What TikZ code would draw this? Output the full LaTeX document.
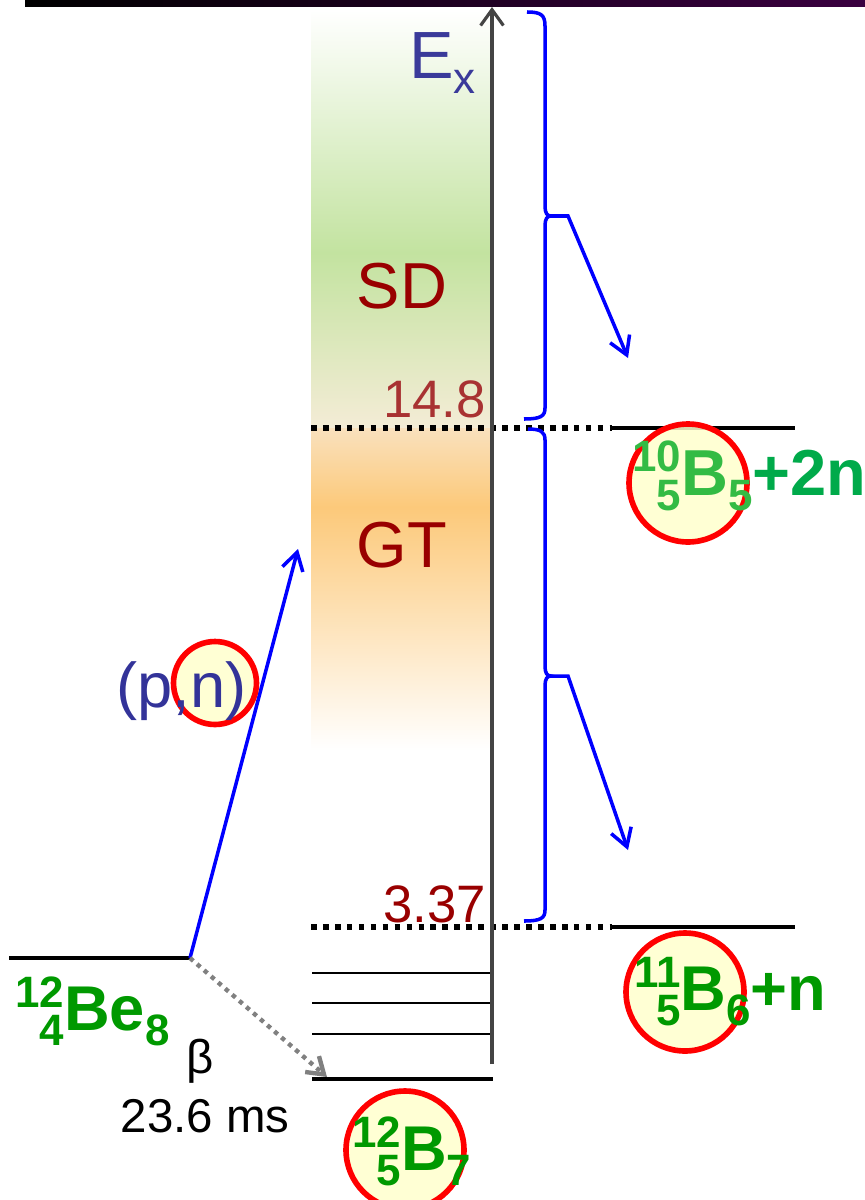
\documentclass[tikz,border=0pt]{standalone}
\usepackage{fontspec}
\setmainfont{Liberation Sans}
\usetikzlibrary{positioning,arrows.meta,calc}

\definecolor{exblue}{HTML}{3A3A9A}
\definecolor{pnblue}{HTML}{333399}
\definecolor{sdred}{HTML}{990000}
\definecolor{numred}{HTML}{A83232}
\definecolor{nucgreen}{HTML}{009900}
\definecolor{nuclight}{HTML}{33BB44}
\definecolor{plusgreen}{HTML}{00AA4A}
\definecolor{sdgreen}{HTML}{C3E3A0}
\definecolor{paleband}{HTML}{F4ECD6}
\definecolor{paleorange}{HTML}{F9E1BD}
\definecolor{gtorange}{HTML}{FCC97A}
\definecolor{circfill}{HTML}{FFFFCC}
\definecolor{axisgray}{HTML}{444444}
\definecolor{barnavy}{HTML}{00003A}
\definecolor{barpurple}{HTML}{3A0040}

% nuclide with mass number, proton number and neutron number
\newcommand{\isotope}[4]{%
  \raisebox{0.36em}{\fontsize{25}{25}\selectfont #1}%
  \llap{\raisebox{-0.24em}{\fontsize{25}{25}\selectfont #2}}%
  #3\raisebox{-0.24em}{\fontsize{25}{25}\selectfont #4}}

\begin{document}
\begin{tikzpicture}[x=0.02cm, y=-0.02cm,
  lbl/.style={inner sep=0pt},
  nuc/.style={inner sep=0pt, anchor=base west, font=\fontsize{36}{40}\selectfont\bfseries},
  ring/.style={circle, draw=red, line width=3.2pt, fill=circfill, fill opacity=0.85, inner sep=0pt},
  level/.style={line width=2.8pt},
  sublevel/.style={line width=1.6pt},
  dotline/.style={line width=3.2pt, dash pattern=on 3.2pt off 3.6pt},
  bracket/.style={blue, line width=2pt},
  decay/.style={blue, line width=2pt, -{Straight Barb[length=10pt, width=12pt]}}]

\useasboundingbox (0,0) rectangle (865,1200);

% Top bar
\shade[left color=black, middle color=barnavy, right color=barpurple] (25,0) rectangle (865,6);

% Strength column: SD (green) above GT (orange)
\shade[top color=white, bottom color=sdgreen] (311,10) rectangle (491,253);
\shade[top color=sdgreen, bottom color=paleband] (311,253) rectangle (491,428);
\shade[top color=paleorange, bottom color=gtorange] (311,428) rectangle (491,507);
\shade[top color=gtorange, bottom color=white] (311,507) rectangle (491,750);

% Thresholds
\draw[dotline] (311,428) -- (612,428);
\draw[dotline] (311,927) -- (612,927);
\draw[level] (612,428) -- (795,428);
\draw[level] (612,927) -- (795,927);

% Levels
\draw[level] (9,958) -- (190,958);
\draw[level] (312,1079) -- (493,1079);
\foreach \y in {973,1003,1034}
  \draw[sublevel] (312,\y) -- (492,\y);

% Excitation energy axis
\draw[axisgray, line width=1.8pt, -{Straight Barb[length=9pt, width=13pt]}] (492,1064) -- (492,7);
\node[lbl, anchor=base west, text=exblue, font=\fontsize{38}{40}\selectfont] (ex) at (409,78)
  {E\raisebox{-0.23em}{\fontsize{25}{25}\selectfont x}};

% Region labels
\node[lbl, anchor=base, text=sdred, font=\fontsize{37}{40}\selectfont] (sd) at (402,308) {SD};
\node[lbl, anchor=base, text=sdred, font=\fontsize{37}{40}\selectfont] (gt) at (402,567) {GT};
\node[lbl, anchor=base east, text=numred, font=\fontsize{30}{34}\selectfont] (sn2) at (486,417) {14.8};
\node[lbl, anchor=base east, text=sdred, font=\fontsize{30}{34}\selectfont] (sn1) at (486,922) {3.37};

% Braces
\draw[bracket] (527,12) .. controls (541,12) and (545,15) .. (545,26) -- (545,206)
  .. controls (545,213) and (547,216) .. (551,216) .. controls (547,216) and (545,219) .. (545,226)
  -- (545,408) .. controls (545,416) and (541,419) .. (524,419);
\draw[bracket] (528,429) .. controls (541,429) and (545,432) .. (545,440) -- (545,666)
  .. controls (545,673) and (547,676) .. (551,676) .. controls (547,676) and (545,679) .. (545,686)
  -- (545,910) .. controls (545,918) and (541,921) .. (524,921);
\coordinate (upcusp) at (551,216);
\coordinate (lowcusp) at (551,676);
\coordinate (twon) at (628,358);
\coordinate (onen) at (628,850);
\draw[decay] (upcusp) -- (568,216) -- (twon);
\draw[decay] (lowcusp) -- (568,676) -- (onen);

% Transitions from the parent
\coordinate (parent) at (190,958);
\coordinate (gtzone) at (298,549);
\coordinate (ground) at (327,1077);
\draw[decay] (parent) -- (gtzone);
\draw[gray, line width=2.5pt, dash pattern=on 2.5pt off 2.8pt, -{Straight Barb[length=9pt, width=12pt]}] (parent) -- (ground);

% (p,n)
\node[ring, minimum size=1.66cm] (nring) at (215,683) {};
\node[lbl, anchor=base west, text=pnblue, font=\fontsize{36}{40}\selectfont] (pn) at (116,707) {(p,n)};

% Beta decay
\node[lbl, anchor=base, font=\fontsize{27}{30}\selectfont] (beta) at (200,1073) {β};
\node[lbl, anchor=base, font=\fontsize{27}{30}\selectfont] (halflife) at (205,1132) {23.6 ms};

% Nuclei
\node[nuc, text=nucgreen] (be) at (15,1030) {\isotope{12}{4}{Be}{8}};
\node[ring, minimum size=2.36cm] (bring) at (405,1150) {};
\node[nuc, text=nucgreen] (b12) at (352,1170) {\isotope{12}{5}{B}{7}};
\node[ring, minimum size=2.36cm] (b10ring) at (688,483) {};
\node[nuc, text=nuclight, font=\fontsize{37}{40}\selectfont\bfseries] (b10) at (632,495) {\isotope{10}{5}{B}{5}\textcolor{plusgreen}{+2n}};
\node[ring, minimum size=2.36cm] (b11ring) at (685,992) {};
\node[nuc, text=nucgreen] (b11) at (634,1010) {\isotope{11}{5}{B}{6}+n};

\end{tikzpicture}
\end{document}
